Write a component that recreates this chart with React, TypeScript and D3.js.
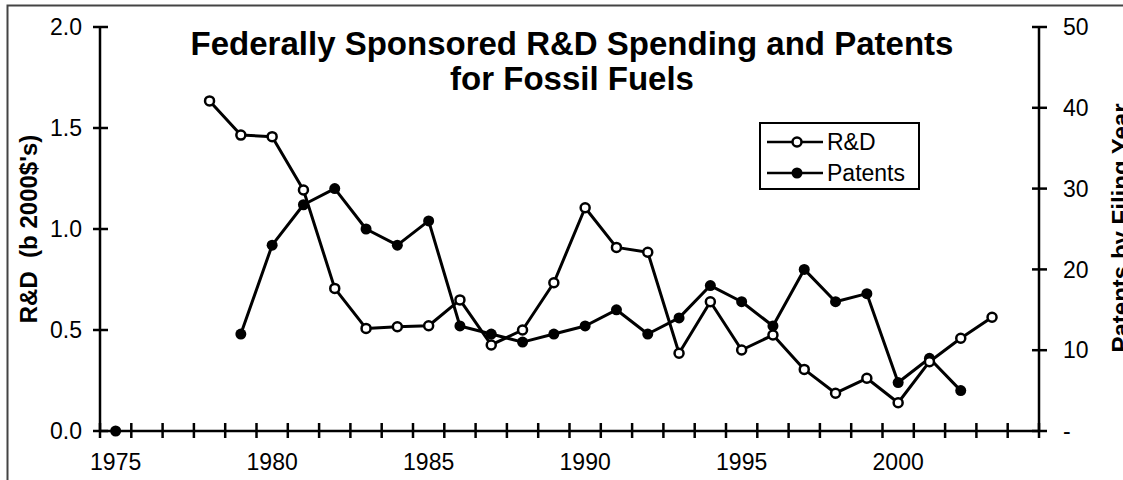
import React from "react";
import * as d3 from "d3";

const years: number[] = d3.range(1975, 2005);
const xLabelYears: number[] = [1975, 1980, 1985, 1990, 1995, 2000];

const rdYears: number[] = [1978, 1979, 1980, 1981, 1982, 1983, 1984, 1985, 1986, 1987, 1988, 1989, 1990, 1991, 1992, 1993, 1994, 1995, 1996, 1997, 1998, 1999, 2000, 2001, 2002, 2003];
const rdValues: number[] = [1.634, 1.465, 1.457, 1.193, 0.706, 0.508, 0.516, 0.521, 0.649, 0.426, 0.5, 0.734, 1.105, 0.909, 0.885, 0.385, 0.64, 0.401, 0.475, 0.305, 0.187, 0.261, 0.14, 0.343, 0.459, 0.563];

const patentYears: number[] = [1975, 1976, 1977, 1978, 1979, 1980, 1981, 1982, 1983, 1984, 1985, 1986, 1987, 1988, 1989, 1990, 1991, 1992, 1993, 1994, 1995, 1996, 1997, 1998, 1999, 2000, 2001, 2002];
const patentValues: (number | null)[] = [0, null, null, null, 12, 23, 28, 30, 25, 23, 26, 13, 12, 11, 12, 13, 15, 12, 14, 18, 16, 13, 20, 16, 17, 6, 9, 5];

const leftTicks: number[] = [0, 0.5, 1.0, 1.5, 2.0];
const rightTicks: number[] = [0, 10, 20, 30, 40, 50];

const titleLines: string[] = ["Federally Sponsored R&D Spending and Patents", "for Fossil Fuels"];
const leftTitle = "R&D  (b 2000$'s)";
const rightTitle = "Patents by Filing Year";
const legendLabels: string[] = ["R&D", "Patents"];

const W = 1123;
const H = 480;
const FONT = "'Liberation Sans', Arial, sans-serif";

export default function App() {
  const x = d3.scaleBand<number>().domain(years).range([100, 1039]).padding(0);
  const bw = x.bandwidth();
  const cx = (yr: number) => (x(yr) as number) + bw / 2;
  const yL = d3.scaleLinear().domain([0, 2]).range([431, 27]);
  const yR = d3.scaleLinear().domain([0, 50]).range([431, 27]);

  const rdData = rdYears.map((yr, i) => ({ yr, v: rdValues[i] as number | null }));
  const patData = patentYears.map((yr, i) => ({ yr, v: patentValues[i] }));

  const rdLine = d3
    .line<{ yr: number; v: number | null }>()
    .defined((d) => d.v != null)
    .x((d) => cx(d.yr))
    .y((d) => yL(d.v as number));
  const patLine = d3
    .line<{ yr: number; v: number | null }>()
    .defined((d) => d.v != null)
    .x((d) => cx(d.yr))
    .y((d) => yR(d.v as number));

  const boundaries = [...years.map((yr) => x(yr) as number), 1039];

  return (
    <svg
      width={W}
      height={H}
      style={{ position: "absolute", left: 0, top: 0, background: "#fff" }}
      fontFamily={FONT}
    >
      <rect x={0} y={0} width={W} height={H} fill="#fff" />
      <rect x={7.5} y={5.5} width={W + 20} height={H + 20} fill="none" stroke="#444" strokeWidth={2} />

      {/* Title */}
      <text x={572} y={55} textAnchor="middle" fontSize={33} fontWeight="bold">
        {titleLines[0]}
      </text>
      <text x={572} y={90} textAnchor="middle" fontSize={33} fontWeight="bold">
        {titleLines[1]}
      </text>

      {/* Left axis */}
      <line x1={100} x2={100} y1={yL(2)} y2={yL(0)} stroke="#000" strokeWidth={2.5} />
      {leftTicks.map((t) => (
        <g key={"l" + t}>
          <line x1={93} x2={108} y1={yL(t)} y2={yL(t)} stroke="#000" strokeWidth={2.5} />
          <text x={82} y={yL(t)} dy="0.36em" textAnchor="end" fontSize={23}>
            {t.toFixed(1)}
          </text>
        </g>
      ))}
      <text
        transform={`translate(37,229) rotate(-90)`}
        textAnchor="middle"
        fontSize={24}
        fontWeight="bold"
        style={{ whiteSpace: "pre" }}
      >
        {leftTitle}
      </text>

      {/* Right axis */}
      <line x1={1039} x2={1039} y1={yR(50)} y2={yR(0)} stroke="#000" strokeWidth={2.5} />
      {rightTicks.map((t) => (
        <g key={"r" + t}>
          <line x1={1032} x2={1047} y1={yR(t)} y2={yR(t)} stroke="#000" strokeWidth={2.5} />
          <text x={1063} y={yR(t)} dy="0.36em" textAnchor="start" fontSize={23}>
            {t === 0 ? "-" : String(t)}
          </text>
        </g>
      ))}
      <text
        transform={`translate(1129,228) rotate(-90)`}
        textAnchor="middle"
        fontSize={24}
        fontWeight="bold"
      >
        {rightTitle}
      </text>

      {/* X axis */}
      <line x1={100} x2={1039} y1={yL(0)} y2={yL(0)} stroke="#000" strokeWidth={2.5} />
      {boundaries.map((bx, i) => (
        <line key={"xt" + i} x1={bx} x2={bx} y1={yL(0) - 8} y2={yL(0) + 7} stroke="#000" strokeWidth={2.5} />
      ))}
      {xLabelYears.map((yr) => (
        <text key={"xl" + yr} x={cx(yr)} y={470} textAnchor="middle" fontSize={23}>
          {yr}
        </text>
      ))}

      {/* Patents series */}
      <path d={patLine(patData) || ""} fill="none" stroke="#000" strokeWidth={3} strokeLinejoin="round" />
      {patData
        .filter((d) => d.v != null)
        .map((d) => (
          <circle key={"p" + d.yr} cx={cx(d.yr)} cy={yR(d.v as number)} r={5.5} fill="#000" />
        ))}

      {/* R&D series */}
      <path d={rdLine(rdData) || ""} fill="none" stroke="#000" strokeWidth={3} strokeLinejoin="round" />
      {rdData.map((d) => (
        <circle key={"r" + d.yr} cx={cx(d.yr)} cy={yL(d.v as number)} r={4.5} fill="#fff" stroke="#000" strokeWidth={2.5} />
      ))}

      {/* Legend */}
      <rect x={760} y={123} width={159} height={66} fill="#fff" stroke="#000" strokeWidth={2} />
      <line x1={767} x2={823} y1={142} y2={142} stroke="#000" strokeWidth={2.5} />
      <circle cx={797} cy={142} r={4.5} fill="#fff" stroke="#000" strokeWidth={2.5} />
      <text x={827} y={142} dy="0.36em" fontSize={23}>
        {legendLabels[0]}
      </text>
      <line x1={767} x2={823} y1={173} y2={173} stroke="#000" strokeWidth={2.5} />
      <circle cx={797} cy={173} r={5.5} fill="#000" />
      <text x={827} y={173} dy="0.36em" fontSize={23}>
        {legendLabels[1]}
      </text>
    </svg>
  );
}
